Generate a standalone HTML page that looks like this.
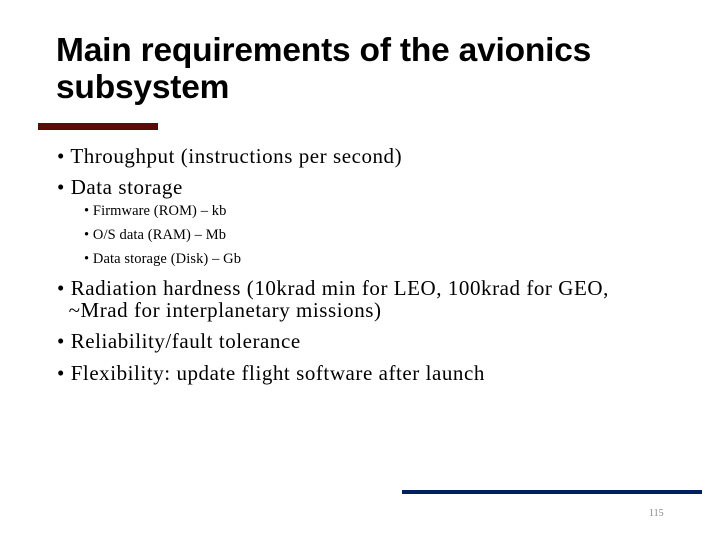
<!DOCTYPE html>
<html><head><meta charset="utf-8"><style>
body{margin:0;width:720px;height:540px;background:#fff;position:relative;overflow:hidden;font-family:"Liberation Serif",serif;color:#000}
.a{position:absolute;white-space:nowrap}
h1{position:absolute;left:56px;top:32px;margin:0;font:bold 33.5px/37px "Liberation Sans",sans-serif;letter-spacing:-0.2px}
.b{font-size:21px;left:57px;letter-spacing:0.55px}
.s{font-size:14.5px;left:84px;letter-spacing:0.1px}
</style></head><body>
<h1>Main requirements of the avionics<br>subsystem</h1>
<div class="a" style="left:38px;top:123px;width:120px;height:7px;background:#5c0a0a"></div>
<div class="a b" style="top:144px">• Throughput (instructions per second)</div>
<div class="a b" style="top:175px">• Data storage</div>
<div class="a s" style="top:203px">• Firmware (ROM) – kb</div>
<div class="a s" style="top:227px">• O/S data (RAM) – Mb</div>
<div class="a s" style="top:251px">• Data storage (Disk) – Gb</div>
<div class="a b" style="top:277px;line-height:22px">• Radiation hardness (10krad min for LEO, 100krad for GEO,<br>&nbsp;&nbsp;~Mrad for interplanetary missions)</div>
<div class="a b" style="top:329px">• Reliability/fault tolerance</div>
<div class="a b" style="top:361px">• Flexibility: update flight software after launch</div>
<div class="a" style="left:402px;top:490px;width:300px;height:4px;background:#002060"></div>
<div class="a" style="left:649px;top:508px;font-size:10px;color:#888">115</div>
</body></html>
